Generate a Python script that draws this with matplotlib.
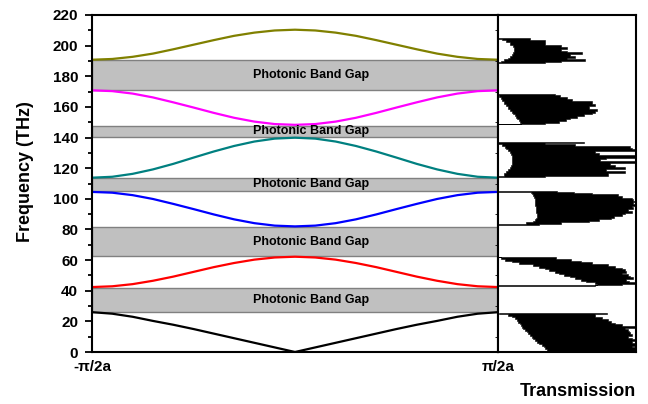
"""Band structure of a 1D photonic crystal with its transmission spectrum."""

import matplotlib

matplotlib.use("Agg")
import matplotlib.pyplot as plt
from matplotlib.ticker import MultipleLocator

plt.rcParams["font.family"] = ["Liberation Sans", "DejaVu Sans"]
plt.rcParams["font.weight"] = "bold"

# wave vector, in units of pi/2a
k = [-1.0, -0.9, -0.8, -0.7, -0.6, -0.5, -0.4, -0.3, -0.2, -0.1, 0.0,
     0.1, 0.2, 0.3, 0.4, 0.5, 0.6, 0.7, 0.8, 0.9, 1.0]

# band frequencies (THz)
band1 = [26.0, 25.0, 23.0, 20.3, 17.8, 15.0, 12.0, 9.0, 6.0, 3.0, 0.0,
         3.0, 6.0, 9.0, 12.0, 15.0, 17.8, 20.3, 23.0, 25.0, 26.0]
band2 = [42.4, 42.9, 44.3, 46.5, 49.2, 52.3, 55.4, 58.1, 60.3, 61.7, 62.2,
         61.7, 60.3, 58.1, 55.4, 52.3, 49.2, 46.5, 44.3, 42.9, 42.4]
band3 = [104.5, 104.0, 102.4, 99.9, 96.7, 93.3, 89.8, 86.6, 84.1, 82.5, 82.0,
         82.5, 84.1, 86.6, 89.8, 93.3, 96.7, 99.9, 102.4, 104.0, 104.5]
band4 = [113.8, 114.4, 116.3, 119.2, 122.8, 126.9, 130.9, 134.5, 137.4, 139.3, 139.9,
         139.3, 137.4, 134.5, 130.9, 126.9, 122.8, 119.2, 116.3, 114.4, 113.8]
band5 = [170.8, 170.3, 168.7, 166.2, 163.0, 159.6, 156.1, 152.9, 150.4, 148.8, 148.3,
         148.8, 150.4, 152.9, 156.1, 159.6, 163.0, 166.2, 168.7, 170.3, 170.8]
band6 = [190.8, 191.3, 192.7, 194.8, 197.6, 200.6, 203.6, 206.4, 208.5, 209.9, 210.4,
         209.9, 208.5, 206.4, 203.6, 200.6, 197.6, 194.8, 192.7, 191.3, 190.8]
bands = [band1, band2, band3, band4, band5, band6]
band_colors = ["#000000", "#ff0000", "#0000ff", "#008080", "#ff00ff", "#808000"]

# photonic band gaps (lower, upper) in THz
gap_low = [26.2, 62.6, 105.2, 140.2, 171.0]
gap_high = [41.6, 81.5, 113.5, 147.8, 190.3]
gap_label = "Photonic Band Gap"

# transmission spectrum: frequency, left envelope and spike tips per band
t1_f = [25.3, 24.1, 23.1, 22.0, 20.9, 19.8, 18.7, 17.6, 16.5, 15.4, 14.3, 13.3,
        12.2, 11.1, 10.0, 8.9, 7.8, 6.7, 5.6, 4.6, 3.5, 2.4, 1.3, 0.2]
t1_lo = [0.01, 0.075, 0.10, 0.123, 0.14, 0.147, 0.16, 0.167, 0.175, 0.183, 0.195, 0.208,
         0.22, 0.232, 0.245, 0.256, 0.268, 0.28, 0.30, 0.316, 0.33, 0.341, 0.355, 0.364]
t1_hi = [0.79, 0.70, 0.70, 0.75, 0.80, 0.82, 0.85, 0.90, 0.99, 0.92, 0.94, 0.95,
         0.96, 0.97, 0.94, 0.97, 0.99, 0.97, 0.99, 0.99, 0.97, 0.99, 0.99, 0.99]

t2_f = [62.2, 61.2, 60.1, 59.0, 57.9, 56.8, 55.7, 54.6, 53.5, 52.4, 51.3, 50.3,
        49.2, 48.1, 47.0, 46.0, 44.8, 43.8, 43.3]
t2_lo = [0.0, 0.02, 0.05, 0.10, 0.15, 0.25, 0.30, 0.34, 0.37, 0.41, 0.44, 0.48,
         0.52, 0.56, 0.60, 0.64, 0.70, 0.72, 0.0]
t2_hi = [0.29, 0.42, 0.53, 0.60, 0.68, 0.80, 0.85, 0.90, 0.92, 0.93, 0.90, 0.94,
         0.96, 0.98, 0.93, 0.95, 0.99, 0.90, 0.70]

t3_f = [105.1, 104.4, 103.6, 102.5, 101.4, 100.3, 99.2, 98.1, 97.1, 96.0, 94.9,
        93.8, 92.7, 91.6, 90.5, 89.4, 88.3, 87.2, 86.2, 85.1, 84.0, 83.1]
t3_lo = [0.0, 0.24, 0.245, 0.255, 0.263, 0.265, 0.267, 0.268, 0.27, 0.27, 0.272,
         0.273, 0.275, 0.277, 0.28, 0.28, 0.28, 0.278, 0.268, 0.25, 0.20, 0.0]
t3_hi = [0.43, 0.55, 0.68, 0.87, 0.90, 0.97, 0.98, 0.99, 0.98, 0.99, 0.97,
         0.98, 0.94, 0.97, 0.92, 0.90, 0.84, 0.82, 0.73, 0.66, 0.46, 0.30]

t4_f = [137.3, 136.2, 135.1, 134.0, 133.0, 131.9, 130.3, 129.1, 127.5, 126.4,
        125.3, 124.2, 123.1, 121.6, 120.3, 118.8, 117.3, 116.0, 114.4]
t4_lo = [0.0, 0.0, 0.03, 0.05, 0.06, 0.075, 0.085, 0.093, 0.098, 0.10,
         0.10, 0.10, 0.098, 0.093, 0.085, 0.075, 0.06, 0.04, 0.0]
t4_hi = [0.62, 0.34, 0.56, 0.96, 0.97, 0.99, 0.70, 0.73, 0.99, 0.78,
         0.74, 0.99, 0.81, 0.85, 0.92, 0.78, 0.92, 0.80, 0.34]

t5_f = [168.4, 167.0, 165.5, 164.5, 163.0, 161.2, 159.5, 158.0, 156.8, 155.8,
        154.6, 153.6, 152.5, 151.5, 150.3, 149.2, 148.6]
t5_lo = [0.0, 0.01, 0.02, 0.03, 0.045, 0.06, 0.075, 0.09, 0.10, 0.11,
         0.12, 0.13, 0.14, 0.15, 0.16, 0.17, 0.0]
t5_hi = [0.41, 0.45, 0.50, 0.535, 0.68, 0.70, 0.66, 0.72, 0.70, 0.68,
         0.62, 0.57, 0.52, 0.49, 0.44, 0.34, 0.30]

t6_f = [205.2, 204.0, 203.0, 201.5, 199.7, 198.2, 197.1, 196.1, 195.0, 193.9,
        192.8, 191.7, 190.6, 189.5, 188.8]
t6_lo = [0.0, 0.03, 0.06, 0.09, 0.11, 0.117, 0.118, 0.115, 0.11, 0.10,
         0.085, 0.07, 0.04, 0.02, 0.0]
t6_hi = [0.23, 0.23, 0.34, 0.34, 0.46, 0.50, 0.46, 0.50, 0.61, 0.52,
         0.56, 0.50, 0.63, 0.46, 0.34]

spectra = [(t1_f, t1_lo, t1_hi), (t2_f, t2_lo, t2_hi), (t3_f, t3_lo, t3_hi),
           (t4_f, t4_lo, t4_hi), (t5_f, t5_lo, t5_hi), (t6_f, t6_lo, t6_hi)]

fig = plt.figure(figsize=(6.48, 4.04), dpi=100)
ax = fig.add_axes([92 / 648, 52 / 404, 406 / 648, 337 / 404])
ax_t = fig.add_axes([498 / 648, 52 / 404, 138 / 648, 337 / 404], sharey=ax)

# Left: band diagram
for lo, hi in zip(gap_low, gap_high):
    ax.axhspan(lo, hi, facecolor="#c0c0c0", edgecolor="#808080", linewidth=1.0, zorder=1)
    ax.text(0.08, (lo + hi) / 2, gap_label, ha="center", va="center",
            fontsize=9, fontweight="bold", zorder=3)

for vals, color in zip(bands, band_colors):
    ax.plot(k, vals, color=color, linewidth=1.6, zorder=2)

ax.set_xlim(-1, 1)
ax.set_ylim(0, 220)
ax.yaxis.set_major_locator(MultipleLocator(20))
ax.yaxis.set_minor_locator(MultipleLocator(10))
ax.set_xticks([-1, 1])
ax.set_xticklabels(["-\u03c0/2a", "\u03c0/2a"])
ax.tick_params(axis="y", which="major", direction="out", length=5, width=1.3,
               labelsize=11, pad=5)
ax.tick_params(axis="y", which="minor", direction="out", length=3, width=1.3)
ax.tick_params(axis="x", length=0, labelsize=11, pad=6)
for s in ax.spines.values():
    s.set_linewidth(1.5)

fig.text(26 / 648, 1 - 172 / 404, "Frequency (THz)", rotation=90, ha="center",
         va="center", fontsize=13, fontweight="bold")

# Right: transmission spectrum
for f, lo, hi in spectra:
    ax_t.fill_betweenx(f, lo, hi, step="mid", color="black", linewidth=0.4)

ax_t.set_xlim(0, 1)
ax_t.tick_params(left=False, labelleft=False, bottom=False, labelbottom=False)
for s in ax_t.spines.values():
    s.set_linewidth(1.5)

fig.text(578 / 648, 1 - 391 / 404, "Transmission", ha="center", va="center",
         fontsize=13, fontweight="bold")

fig.savefig("out.png", dpi=100)
